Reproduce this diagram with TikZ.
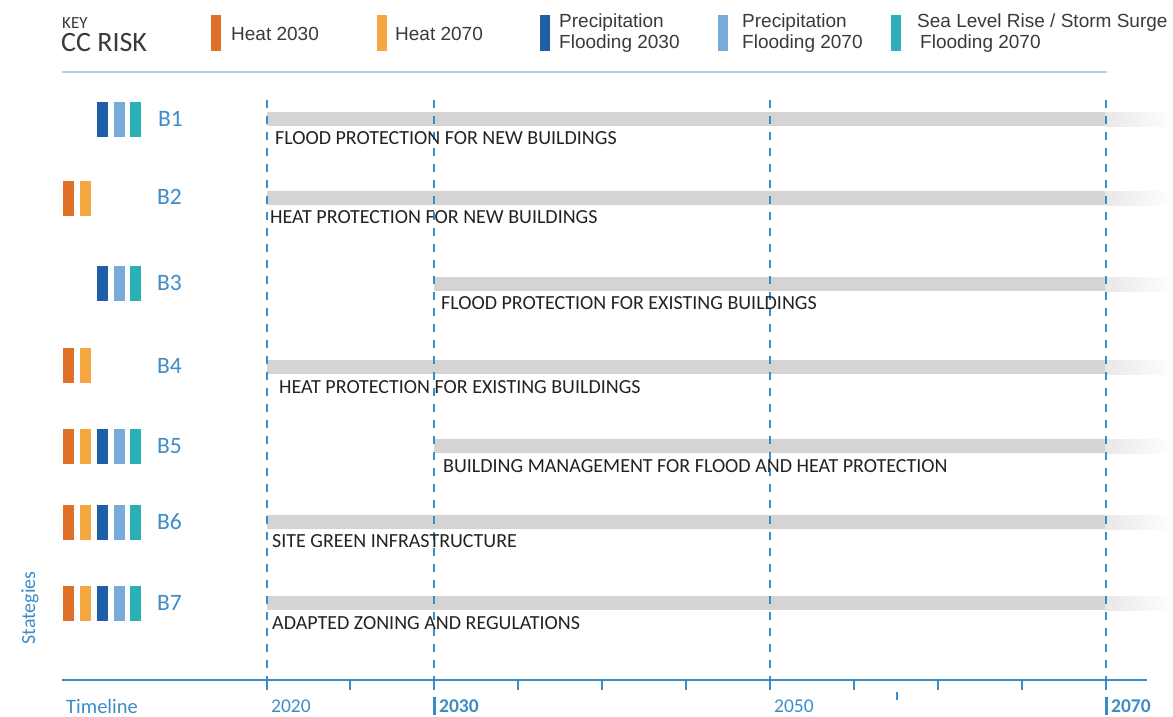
\documentclass[tikz,border=0pt]{standalone}
\usepackage{fontspec}
\setmainfont{Carlito}
\newfontfamily\legfont{Liberation Sans}
\definecolor{hotA}{HTML}{E07028}
\definecolor{hotB}{HTML}{F5A742}
\definecolor{prA}{HTML}{1F5FA8}
\definecolor{prB}{HTML}{78AADC}
\definecolor{sea}{HTML}{2BB0B8}
\definecolor{blu}{HTML}{3C8CC8}
\definecolor{rule}{HTML}{A8D4EC}
\definecolor{bar}{HTML}{D4D4D4}
\definecolor{ink}{HTML}{222222}
\definecolor{keyink}{HTML}{3A3A3A}
\tikzset{
  legtxt/.style={anchor=west,inner sep=0pt,align=left,text=keyink,font=\legfont\fontsize{19}{21.5}\selectfont},
  blab/.style={anchor=west,inner sep=0pt,text=blu,font=\fontsize{23.5}{25}\selectfont},
  stxt/.style={anchor=base west,inner sep=0pt,text=ink,font=\fontsize{20}{22}\selectfont},
  yr/.style={anchor=base west,inner sep=0pt,text=blu,font=\fontsize{19.5}{21}\selectfont},
  guide/.style={blu,line width=1.2pt,dash pattern=on 8pt off 8pt},
  tick/.style={blu,line width=1.2pt},
}
\newcommand\rbar[3]{\fill[#1] (#2,#3-17.5) rectangle ++(11,35);}
\newcommand\gbar[3]{\fill[bar] (#1,#3-7) rectangle (1105,#3+7);
  \shade[left color=bar!55,right color=white] (1105,#3-7) rectangle (1173,#3+7);}
\begin{document}
\begin{tikzpicture}[x=1pt,y=-1pt]
\useasboundingbox (0,0) rectangle (1173,716);
% key
\node[anchor=base west,inner sep=0pt,text=keyink,font=\fontsize{17}{17}\selectfont] (key) at (62,28) {KEY};
\node[anchor=base west,inner sep=0pt,text=keyink,font=\fontsize{28}{28}\selectfont] (cc) at (61,51) {CC RISK};
\fill[hotA] (211,15) rectangle ++(10,36);
\node[legtxt] (l1) at (231,34) {Heat 2030};
\fill[hotB] (377,15) rectangle ++(10,36);
\node[legtxt] (l2) at (395,34) {Heat 2070};
\fill[prA] (540,15) rectangle ++(10,36);
\node[legtxt] (l3) at (559,33) {Precipitation\\Flooding 2030};
\fill[prB] (718,15) rectangle ++(10,36);
\node[legtxt] (l4) at (742,33) {Precipitation\\Flooding 2070};
\fill[sea] (891,15) rectangle ++(10,36);
\node[legtxt] (l5) at (917,33) {Sea Level Rise / Storm Surge\\\hspace*{3pt}Flooding 2070};
\draw[rule,line width=1.2pt] (62,72) -- (1107,72);
% gray bars
\gbar{267}{B1}{119}
\gbar{267}{B2}{198}
\gbar{434}{B3}{284}
\gbar{267}{B4}{367}
\gbar{434}{B5}{446}
\gbar{267}{B6}{522}
\gbar{267}{B7}{603}
% guides
\foreach \gx/\gn in {267/ga,434/gb,770/gc,1106/gd}{
  \coordinate (\gn top) at (\gx,100);
  \coordinate (\gn bot) at (\gx,680);
  \draw[guide] (\gn top) -- (\gn bot);
}
% strategy texts
\node[stxt] (t1) at (275,144) {FLOOD PROTECTION FOR NEW BUILDINGS};
\node[stxt] (t2) at (270,223) {HEAT PROTECTION FOR NEW BUILDINGS};
\node[stxt] (t3) at (441,309) {FLOOD PROTECTION FOR EXISTING BUILDINGS};
\node[stxt] (t4) at (279,393) {HEAT PROTECTION FOR EXISTING BUILDINGS};
\node[stxt] (t5) at (443,472) {BUILDING MANAGEMENT FOR FLOOD AND HEAT PROTECTION};
\node[stxt] (t6) at (272,547) {SITE GREEN INFRASTRUCTURE};
\node[stxt] (t7) at (272,629) {ADAPTED ZONING AND REGULATIONS};
% row labels
\node[blab] (b1) at (158,119) {B1};
\node[blab] (b2) at (157,197) {B2};
\node[blab] (b3) at (157,283) {B3};
\node[blab] (b4) at (157,366) {B4};
\node[blab] (b5) at (157,446) {B5};
\node[blab] (b6) at (157,522) {B6};
\node[blab] (b7) at (157,603) {B7};
% risk bars
\rbar{prA}{97}{119}\rbar{prB}{114}{119}\rbar{sea}{130}{119}
\rbar{hotA}{63}{198}\rbar{hotB}{80}{198}
\rbar{prA}{97}{283}\rbar{prB}{114}{283}\rbar{sea}{130}{283}
\rbar{hotA}{63}{365}\rbar{hotB}{80}{365}
\foreach \ry in {446,522,603}{
  \rbar{hotA}{63}{\ry}\rbar{hotB}{80}{\ry}\rbar{prA}{97}{\ry}\rbar{prB}{114}{\ry}\rbar{sea}{130}{\ry}
}
% axis
\coordinate (ax0) at (62,680);
\coordinate (ax1) at (1147,680);
\draw[tick] (ax0) -- (ax1);
\foreach \tx in {267,350,434,518,602,686,770,854,938,1022,1106}{
  \draw[tick] (\tx,680) -- (\tx,690);
}
\draw[tick] (897,692) -- (897,700);
\node[yr,font=\fontsize{20.5}{22}\selectfont] (tl) at (66,713) {Timeline};
\node[rotate=90,inner sep=0pt,text=blu,font=\fontsize{20}{22}\selectfont] (st) at (30,608) {Stategies};
\node[yr] (y20) at (271,712) {2020};
\fill[blu] (433,697) rectangle (436,715);
\node[yr,font=\bfseries\fontsize{19.5}{21}\selectfont] (y30) at (439,712) {2030};
\node[yr] (y50) at (774,712) {2050};
\fill[blu] (1104.5,697) rectangle (1107.5,715);
\node[yr,font=\bfseries\fontsize{19.5}{21}\selectfont] (y70) at (1111,712) {2070};
\end{tikzpicture}
\end{document}
